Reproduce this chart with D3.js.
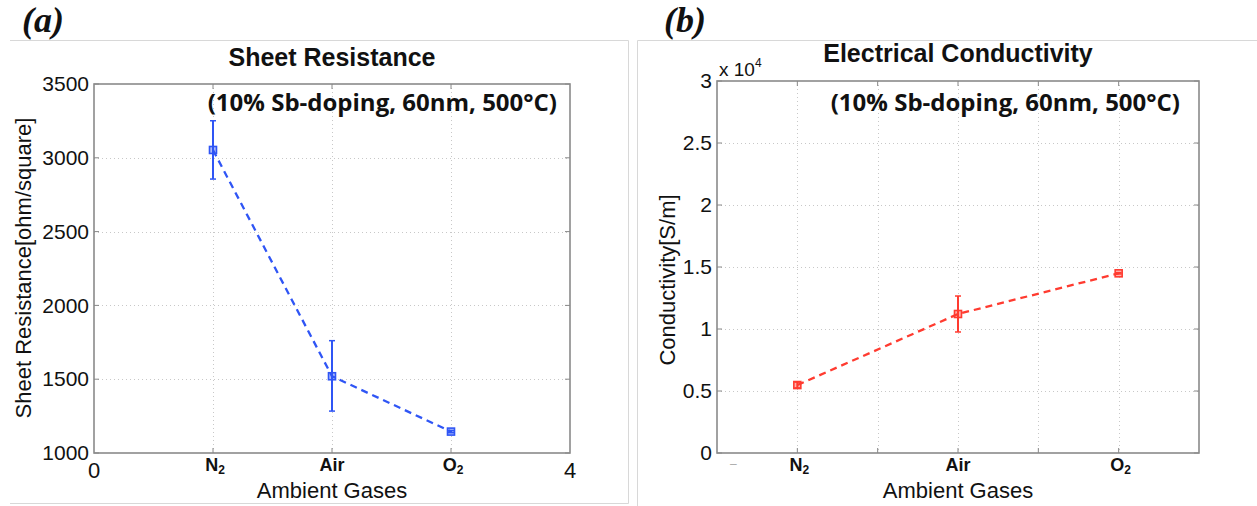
<!DOCTYPE html>
<html>
<head>
<meta charset="utf-8">
<script src="https://cdn.jsdelivr.net/npm/d3@7"></script>
<style>
  body { margin: 0; background: #fff; }
  svg text { font-family: "Liberation Sans", Arial, sans-serif; fill: #111; }
  .panelTag { font-family: "Liberation Serif", serif; font-weight: bold; font-style: italic; font-size: 36px; }
  .title { font-weight: bold; font-size: 25px; }
  .note { font-family: "Open Sans", sans-serif; font-weight: bold; font-size: 24px; }
  .tick text { font-size: 21px; }
  .cat { font-weight: bold; font-size: 18px; }
  .axisLabel { font-size: 22px; }
</style>
</head>
<body>
<svg id="chart" width="1257" height="506"></svg>
<script>
// categories and values
let gases = ['N', 'Air', 'O'];
let gasSub = ['2', '', '2'];
let gasX = [1, 2, 3];

let resistance = [3053, 1520, 1145];
let resistanceLow = [2856, 1284, 1138];
let resistanceHigh = [3251, 1761, 1152];

let conductivity = [5480, 11210, 14490];
let conductivityLow = [5250, 9760, 14440];
let conductivityHigh = [5720, 12660, 14540];

let resTicks = [1000, 1500, 2000, 2500, 3000, 3500];
let condTicks = [0, 0.5, 1, 1.5, 2, 2.5, 3];

let svg = d3.select('#chart');

// panel frames (light grey lines of the original figure)
svg.append('path').attr('d', 'M10,40.5H628.5V503.5H10').attr('fill', 'none').attr('stroke', '#d8d8d8');
svg.append('path').attr('d', 'M637.5,506V40.5H1257').attr('fill', 'none').attr('stroke', '#d8d8d8');

svg.append('text').attr('class', 'panelTag').attr('x', 22).attr('y', 32).text('(a)');
svg.append('text').attr('class', 'panelTag').attr('x', 664).attr('y', 32).text('(b)');

function drawPanel(opt) {
  let g = svg.append('g');
  let x = d3.scaleLinear().domain(opt.xDomain).range([opt.left, opt.right]);
  let y = d3.scaleLinear().domain(opt.yDomain).range([opt.bottom, opt.top]);

  // dotted grid
  g.selectAll(null).data(opt.yTicks.slice(1, -1)).enter().append('line')
    .attr('x1', opt.left).attr('x2', opt.right)
    .attr('y1', d => Math.round(y(d)) + 0.5).attr('y2', d => Math.round(y(d)) + 0.5)
    .attr('stroke', '#c8c8c8').attr('stroke-dasharray', '1,3');
  g.selectAll(null).data(opt.xGrid).enter().append('line')
    .attr('y1', opt.top).attr('y2', opt.bottom)
    .attr('x1', d => Math.round(x(d)) + 0.5).attr('x2', d => Math.round(x(d)) + 0.5)
    .attr('stroke', '#c8c8c8').attr('stroke-dasharray', '1,3');

  // y axis
  let yAxis = g.append('g').attr('transform', `translate(${opt.left},0)`)
    .call(d3.axisLeft(y).tickValues(opt.yTicks).tickSize(0).tickPadding(5).tickFormat(opt.yFormat));
  yAxis.select('.domain').remove();

  // inner ticks on all sides, MATLAB style
  opt.yTicks.forEach(t => {
    g.append('line').attr('x1', opt.left).attr('x2', opt.left + 5).attr('y1', y(t)).attr('y2', y(t)).attr('stroke', '#888');
    g.append('line').attr('x1', opt.right - 5).attr('x2', opt.right).attr('y1', y(t)).attr('y2', y(t)).attr('stroke', '#888');
  });
  opt.xGrid.forEach(t => {
    g.append('line').attr('y1', opt.bottom).attr('y2', opt.bottom - 5).attr('x1', x(t)).attr('x2', x(t)).attr('stroke', '#888');
    g.append('line').attr('y1', opt.top).attr('y2', opt.top + 5).attr('x1', x(t)).attr('x2', x(t)).attr('stroke', '#888');
  });

  // box
  g.append('rect').attr('x', opt.left).attr('y', opt.top)
    .attr('width', opt.right - opt.left).attr('height', opt.bottom - opt.top)
    .attr('fill', 'none').attr('stroke', '#8a8a8a').attr('stroke-width', 1.6);

  // x tick labels
  let cats = g.selectAll(null).data(gases).enter().append('text')
    .attr('class', 'cat').attr('text-anchor', 'middle')
    .attr('x', (d, i) => x(gasX[i]) + (gasSub[i] ? 2 : 0)).attr('y', opt.bottom + 18);
  cats.append('tspan').text(d => d);
  cats.append('tspan').attr('dy', 3).attr('font-size', 12).text((d, i) => gasSub[i]);
  (opt.xEnds || []).forEach(e => {
    g.append('text').attr('class', 'axisLabel').attr('text-anchor', 'middle')
      .attr('x', x(e)).attr('y', opt.bottom + 25).text(e);
  });

  // dashed line through the means
  let pts = gasX.map((v, i) => [x(v), y(opt.values[i])]);
  g.append('path').attr('d', d3.line()(pts))
    .attr('fill', 'none').attr('stroke', opt.color).attr('stroke-width', 2.3)
    .attr('stroke-dasharray', '7,5');

  // error bars
  gasX.forEach((v, i) => {
    let cx = x(v);
    g.append('line').attr('x1', cx).attr('x2', cx)
      .attr('y1', y(opt.low[i])).attr('y2', y(opt.high[i]))
      .attr('stroke', opt.color).attr('stroke-width', 2);
    [opt.low[i], opt.high[i]].forEach(e => {
      g.append('line').attr('x1', cx - 3).attr('x2', cx + 3)
        .attr('y1', y(e)).attr('y2', y(e)).attr('stroke', opt.color).attr('stroke-width', 1.5);
    });
    g.append('rect').attr('x', cx - 3.5).attr('y', y(opt.values[i]) - 3.5)
      .attr('width', 7).attr('height', 7)
      .attr('fill', opt.color).attr('fill-opacity', 0.4)
      .attr('stroke', opt.color).attr('stroke-width', 1.6);
  });

  // texts
  let mid = (opt.left + opt.right) / 2;
  g.append('text').attr('class', 'title').attr('text-anchor', 'middle')
    .attr('x', mid).attr('y', opt.titleY).text(opt.title);
  g.append('text').attr('class', 'note').attr('text-anchor', 'end')
    .attr('x', opt.noteRight).attr('y', 111).text('(10% Sb-doping, 60nm, 500°C)');
  g.append('text').attr('class', 'axisLabel').attr('text-anchor', 'middle')
    .attr('x', mid).attr('y', opt.bottom + 45).text('Ambient Gases');
  g.append('text').attr('class', 'axisLabel').attr('text-anchor', 'middle')
    .attr('transform', `translate(${opt.yLabelX},${opt.yLabelY}) rotate(-90)`)
    .text(opt.yLabel);
  return g;
}

drawPanel({
  left: 94, right: 570, top: 84, bottom: 453,
  xDomain: [0, 4], yDomain: [1000, 3500],
  yTicks: resTicks, xGrid: [1, 2, 3], xEnds: [0, 4],
  yFormat: d => d,
  values: resistance, low: resistanceLow, high: resistanceHigh,
  color: '#2f55f5',
  title: 'Sheet Resistance', titleY: 66, noteRight: 557,
  yLabel: 'Sheet Resistance[ohm/square]', yLabelX: 31, yLabelY: 268
});

let pb = drawPanel({
  left: 717, right: 1199, top: 81, bottom: 453,
  xDomain: [0.5, 3.5], yDomain: [0, 30000],
  yTicks: condTicks.map(d => d * 1e4), xGrid: [1, 1.5, 2, 2.5, 3],
  yFormat: d => d / 1e4,
  values: conductivity, low: conductivityLow, high: conductivityHigh,
  color: '#ff3b30',
  title: 'Electrical Conductivity', titleY: 62, noteRight: 1180,
  yLabel: 'Conductivity[S/m]', yLabelX: 675, yLabelY: 280
});

// exponent label and the stray minus under the axis corner
let xe = pb.append('text').attr('x', 719).attr('y', 76).attr('font-size', 19);
xe.append('tspan').text('x 10');
xe.append('tspan').attr('dy', -9).attr('font-size', 12).text('4');
pb.append('text').attr('x', 730).attr('y', 468).attr('font-size', 12).style('fill', '#aaa').text('–');
</script>
</body>
</html>
